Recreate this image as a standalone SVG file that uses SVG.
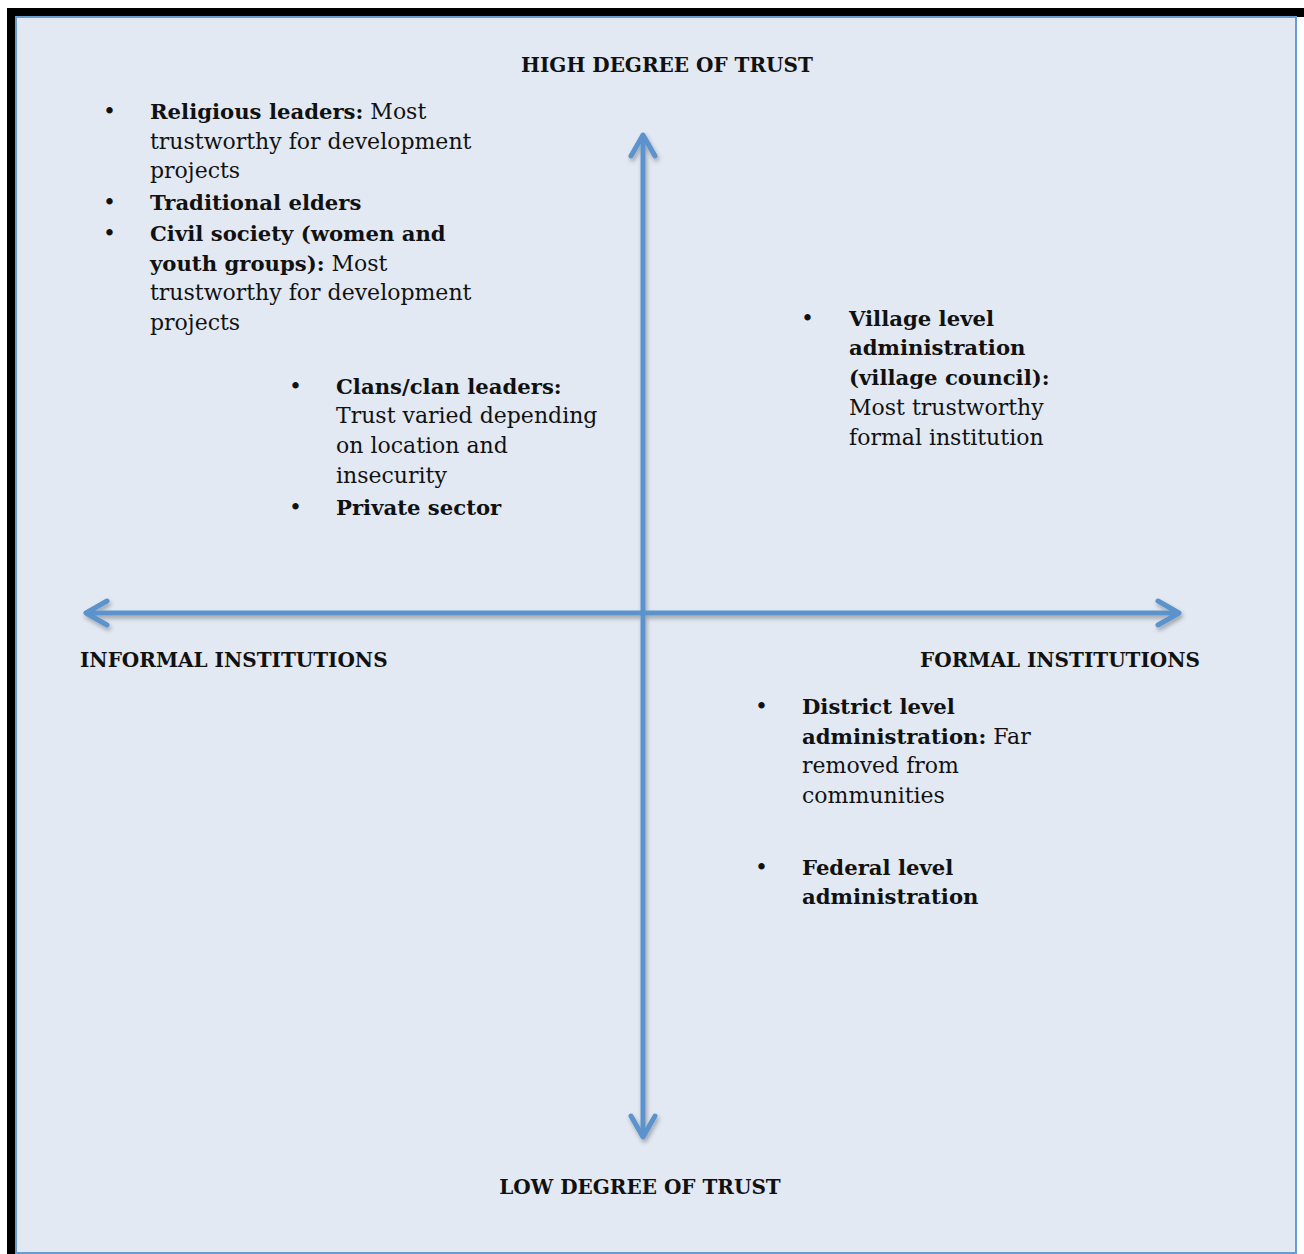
<svg xmlns="http://www.w3.org/2000/svg" width="1304" height="1254" viewBox="0 0 1304 1254">
<style>
  text { font-family: "DejaVu Serif", "Liberation Serif", serif; font-size: 22px; fill: #111; }
  .b { font-weight: bold; font-size: 21.2px; }
  .ax { font-weight: bold; font-size: 20px; }
  .bul { font-size: 22px; }
  .arrow { fill: none; stroke: #5b93cc; stroke-width: 5; stroke-linecap: round; stroke-linejoin: round; }
</style>
<defs>
  <filter id="sh" x="-10%" y="-10%" width="120%" height="120%">
    <feDropShadow dx="1.5" dy="3" stdDeviation="2" flood-color="#000" flood-opacity="0.3"/>
  </filter>
</defs>
<rect x="0" y="0" width="1304" height="1254" fill="#ffffff"/>
<rect x="11.5" y="12.5" width="1300" height="1250" fill="none" stroke="#000" stroke-width="9"/>
<rect x="16" y="17" width="1280" height="1236" fill="#e2e9f3" stroke="#6a9ccf" stroke-width="2"/>
<rect x="1297" y="17" width="3" height="1237" fill="#ffffff"/>

<g id="connectors" filter="url(#sh)">
  <line class="arrow" x1="643" y1="136" x2="643" y2="1136"/>
  <polyline class="arrow" points="631,156 643,135 655,156"/>
  <polyline class="arrow" points="631,1116 643,1137 655,1116"/>
  <line class="arrow" x1="88" y1="613" x2="1177" y2="613"/>
  <polyline class="arrow" points="107,601 86,613 107,625"/>
  <polyline class="arrow" points="1158,601 1179,613 1158,625"/>
</g>

<g id="axis-labels">
  <text class="ax" x="667" y="72" text-anchor="middle">HIGH DEGREE OF TRUST</text>
  <text class="ax" x="640" y="1194" text-anchor="middle">LOW DEGREE OF TRUST</text>
  <text class="ax" x="80" y="667">INFORMAL INSTITUTIONS</text>
  <text class="ax" x="1200" y="667" text-anchor="end">FORMAL INSTITUTIONS</text>
</g>

<g id="informal-high">
  <text class="bul" x="103" y="119">•</text>
  <text x="150" y="119"><tspan class="b">Religious leaders:</tspan> Most</text>
  <text x="150" y="149">trustworthy for development</text>
  <text x="150" y="178">projects</text>
  <text class="bul" x="103" y="210">•</text>
  <text x="150" y="210" class="b">Traditional elders</text>
  <text class="bul" x="103" y="241">•</text>
  <text x="150" y="241" class="b">Civil society (women and</text>
  <text x="150" y="271"><tspan class="b">youth groups):</tspan> Most</text>
  <text x="150" y="300">trustworthy for development</text>
  <text x="150" y="330">projects</text>
</g>

<g id="informal-mid">
  <text class="bul" x="289" y="394">•</text>
  <text x="336" y="394" class="b">Clans/clan leaders:</text>
  <text x="336" y="423">Trust varied depending</text>
  <text x="336" y="453">on location and</text>
  <text x="336" y="483">insecurity</text>
  <text class="bul" x="289" y="515">•</text>
  <text x="336" y="515" class="b">Private sector</text>
</g>

<g id="formal-high">
  <text class="bul" x="801" y="326">•</text>
  <text x="849" y="326" class="b">Village level</text>
  <text x="849" y="355" class="b">administration</text>
  <text x="849" y="385" class="b">(village council):</text>
  <text x="849" y="415">Most trustworthy</text>
  <text x="849" y="445">formal institution</text>
</g>

<g id="formal-low">
  <text class="bul" x="755" y="714">•</text>
  <text x="802" y="714" class="b">District level</text>
  <text x="802" y="744"><tspan class="b">administration:</tspan> Far</text>
  <text x="802" y="773">removed from</text>
  <text x="802" y="803">communities</text>
  <text class="bul" x="755" y="875">•</text>
  <text x="802" y="875" class="b">Federal level</text>
  <text x="802" y="904" class="b">administration</text>
</g>
</svg>
